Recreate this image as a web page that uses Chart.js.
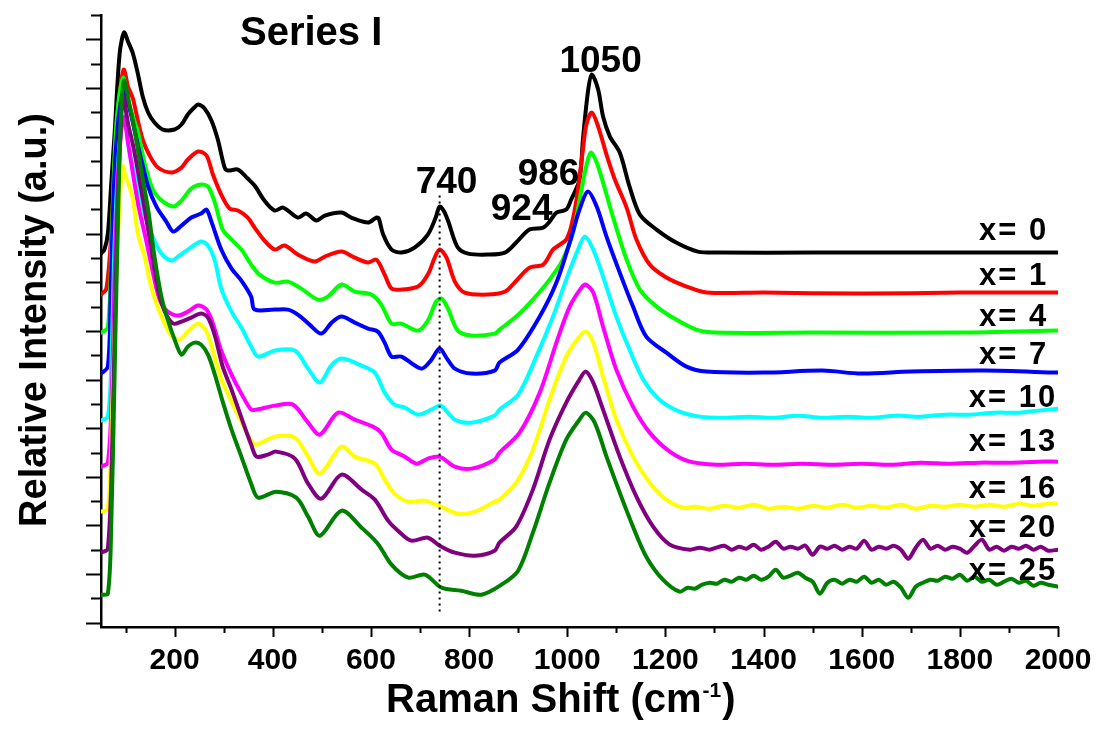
<!DOCTYPE html>
<html>
<head>
<meta charset="utf-8">
<title>Raman - Series I</title>
<script src="https://cdn.jsdelivr.net/npm/chart.js@4.4.1/dist/chart.umd.min.js"></script>
<style>
  html, body { margin: 0; padding: 0; background: #fff; }
  #grafico { display: block; }
</style>
</head>
<body>
<canvas id="grafico" width="1097" height="731"></canvas>
<script>
// [Raman shift (cm-1), relative intensity (a.u., curves already offset)]
const ramanX0 = [[50,369],[57,373],[64,389],[71,440],[78,491],[88,569],[97,590],[105,581],[115,569],[125,549],[135,526],[146,510],[159,500],[176,493],[200,493],[214,498],[227,508],[240,515],[248,518],[261,514],[275,502],[288,483],[302,455],[309,452],[329,453],[349,444],[363,437],[383,422],[404,412],[421,415],[451,405],[468,409],[489,402],[506,407],[540,410],[560,405],[594,400],[611,405],[616,404],[625,388],[642,373],[662,370],[689,375],[716,388],[732,405],[740,416],[748,412],[757,402],[777,375],[798,369],[838,368],[873,370],[896,380],[923,393],[951,395],[964,401],[978,410],[998,413],[1008,423],[1025,443],[1032,483],[1042,530],[1050,548],[1063,533],[1073,506],[1087,486],[1107,470],[1127,436],[1148,408],[1182,393],[1222,380],[1266,371],[1311,370],[1500,370],[1700,370],[2000,370]];

const ramanX1 = [[50,328],[61,334],[71,389],[81,491],[91,541],[97,553],[105,536],[115,524],[125,502],[135,483],[149,467],[166,455],[193,450],[214,455],[227,463],[248,471],[265,467],[278,448],[295,428],[312,414],[329,412],[349,405],[363,395],[383,382],[404,373],[424,377],[451,368],[485,361],[506,366],[540,371],[567,365],[594,360],[611,363],[628,348],[642,334],[662,333],[696,336],[716,348],[730,365],[740,373],[754,365],[771,341],[791,330],[838,328],[873,331],[889,338],[923,355],[951,358],[971,373],[985,378],[998,383],[1008,396],[1019,423],[1032,473],[1039,498],[1050,510],[1063,496],[1080,468],[1097,443],[1121,415],[1141,383],[1168,358],[1202,345],[1243,336],[1284,330],[1400,330],[1600,329],[1800,330],[2000,330]];

const ramanX4 = [[50,290],[64,295],[71,373],[78,471],[85,518],[95,545],[105,522],[115,506],[125,491],[139,459],[153,436],[169,424],[197,416],[214,422],[234,434],[254,438],[268,436],[282,420],[298,393],[316,383],[336,373],[356,358],[373,348],[404,340],[431,341],[458,334],[492,323],[512,326],[540,338],[567,331],[601,328],[621,318],[642,299],[662,299],[696,292],[716,302],[733,321],[744,324],[757,314],[777,292],[805,287],[852,289],[862,293],[896,306],[930,323],[964,343],[991,363],[1012,390],[1029,433],[1042,463],[1049,470],[1060,460],[1073,440],[1093,406],[1121,363],[1148,333],[1182,316],[1222,303],[1263,293],[1304,290],[1500,290],[1800,290],[2000,292]];

const ramanX7 = [[50,249],[64,256],[70,334],[76,432],[83,491],[90,520],[96,531],[105,520],[119,491],[132,463],[146,436],[163,416],[183,401],[197,391],[214,397],[234,405],[254,409],[265,413],[275,401],[295,373],[316,354],[336,342],[356,326],[363,313],[404,313],[431,313],[451,308],[475,298],[499,289],[520,300],[540,306],[567,300],[594,294],[614,291],[628,280],[642,266],[662,266],[703,254],[722,262],[740,274],[755,264],[771,254],[805,249],[852,252],[862,260],[900,273],[944,306],[978,340],[1005,380],[1025,413],[1042,431],[1060,416],[1080,386],[1107,350],[1134,316],[1161,286],[1202,270],[1243,256],[1284,251],[1400,250],[1520,252],[1600,249],[1700,251],[1850,252],[2000,250]];

const ramanX10 = [[50,202],[64,206],[71,260],[77,370],[84,450],[91,495],[98,506],[105,479],[115,455],[125,436],[139,408],[156,385],[173,369],[193,362],[207,366],[227,373],[254,381],[268,377],[282,362],[295,334],[316,311],[336,295],[356,276],[370,266],[404,272],[445,272],[472,254],[496,240],[519,257],[540,264],[581,257],[608,250],[628,230],[648,218],[669,215],[696,208],[723,213],[742,217],[771,203],[805,200],[852,207],[862,213],[900,228],[937,266],[971,306],[998,343],[1022,373],[1036,386],[1053,373],[1073,346],[1100,306],[1127,273],[1155,243],[1188,223],[1229,211],[1270,206],[1320,205],[1370,206],[1420,205],[1470,207],[1520,205],[1570,206],[1620,205],[1670,207],[1720,206],[1770,208],[1820,208],[1870,210],[1920,210],[1960,212],[2000,214]];

const ramanX13 = [[50,156],[64,160],[72,230],[78,350],[85,450],[92,495],[97,505],[105,480],[118,440],[127,415],[139,389],[149,366],[163,334],[173,319],[186,311],[207,307],[227,311],[248,317],[265,313],[278,299],[295,272],[316,248],[336,229],[356,213],[367,213],[404,217],[441,218],[472,200],[496,188],[533,210],[567,203],[604,196],[621,190],[642,173],[669,166],[693,159],[716,164],[740,166],[771,156],[805,154],[852,163],[862,170],[903,190],[944,230],[978,280],[1005,316],[1029,335],[1038,338],[1053,330],[1073,296],[1100,253],[1134,216],[1168,190],[1209,171],[1250,161],[1304,158],[1360,159],[1420,158],[1480,159],[1540,158],[1600,159],[1660,158],[1720,160],[1780,159],[1840,160],[1900,160],[1960,161],[2000,161]];

const ramanX16 = [[50,111],[64,114],[72,200],[80,330],[88,420],[95,456],[100,445],[105,440],[115,424],[125,389],[139,366],[149,342],[163,319],[180,299],[193,287],[210,283],[227,291],[248,299],[265,291],[278,272],[295,244],[316,221],[336,201],[356,182],[366,178],[404,186],[445,185],[472,166],[496,149],[540,176],[567,166],[608,159],[628,143],[648,129],[676,121],[710,122],[743,116],[777,109],[812,111],[852,121],[862,123],[896,140],[930,173],[964,223],[998,266],[1025,286],[1038,291],[1053,280],[1073,246],[1100,203],[1134,166],[1168,140],[1202,123],[1236,115],[1260,116],[1290,114],[1320,117],[1350,115],[1380,118],[1410,114],[1440,116],[1470,114],[1500,117],[1530,115],[1560,118],[1590,115],[1620,117],[1650,115],[1680,118],[1710,114],[1740,117],[1770,116],[1800,118],[1830,116],[1860,118],[1890,116],[1920,119],[1950,117],[1980,119],[2000,119]];

const ramanX20 = [[50,70],[64,74],[73,180],[80,340],[87,460],[95,526],[105,499],[115,478],[125,452],[139,413],[153,373],[166,334],[180,311],[197,299],[214,301],[234,305],[254,309],[268,305],[282,287],[298,256],[316,233],[336,205],[356,178],[367,166],[390,168],[407,171],[445,164],[472,139],[499,124],[540,148],[581,133],[608,123],[635,102],[655,92],[682,82],[716,85],[740,77],[771,70],[812,67],[852,72],[862,80],[896,96],[930,133],[964,183],[998,220],[1025,243],[1038,251],[1053,240],[1073,213],[1107,166],[1141,126],[1175,96],[1209,78],[1250,73],[1270,75],[1290,73],[1304,75],[1320,77],[1335,73],[1350,76],[1365,74],[1380,78],[1395,73],[1410,76],[1425,81],[1440,74],[1455,76],[1470,74],[1485,77],[1500,68],[1515,76],[1530,74],[1545,77],[1560,73],[1575,76],[1590,74],[1605,82],[1620,73],[1635,76],[1650,74],[1665,77],[1680,73],[1695,64],[1710,75],[1725,83],[1740,74],[1755,77],[1770,73],[1785,76],[1800,74],[1815,70],[1830,77],[1845,83],[1860,73],[1875,76],[1890,72],[1905,76],[1920,74],[1935,77],[1950,73],[1965,76],[1980,72],[2000,73]];

const ramanX25 = [[50,28],[64,29],[71,100],[78,256],[85,413],[91,510],[97,542],[108,518],[119,491],[132,452],[146,413],[159,366],[173,326],[186,303],[200,283],[214,268],[227,276],[241,280],[254,278],[268,268],[282,248],[298,221],[316,193],[336,166],[356,139],[370,125],[407,131],[448,125],[472,106],[496,87],[540,112],[581,95],[614,79],[642,58],[676,45],[710,48],[744,35],[784,32],[825,28],[866,38],[900,52],[930,90],[964,140],[998,183],[1025,203],[1038,210],[1056,200],[1080,166],[1107,130],[1134,96],[1161,66],[1195,43],[1229,31],[1245,35],[1260,34],[1275,38],[1290,40],[1305,39],[1320,43],[1335,41],[1350,45],[1365,43],[1380,47],[1395,43],[1410,46],[1425,53],[1440,45],[1455,47],[1470,50],[1485,45],[1500,41],[1515,29],[1530,40],[1545,43],[1560,39],[1575,43],[1590,41],[1605,46],[1620,40],[1635,43],[1650,38],[1665,41],[1680,35],[1695,25],[1710,36],[1725,40],[1740,43],[1755,42],[1770,46],[1785,44],[1800,48],[1815,42],[1830,46],[1845,41],[1860,43],[1875,38],[1890,41],[1905,44],[1920,40],[1935,42],[1950,37],[1965,40],[1980,38],[2000,36]];

const spectra = [ramanX0, ramanX1, ramanX4, ramanX7, ramanX10, ramanX13, ramanX16, ramanX20, ramanX25];
const seriesNames = ['x= 0', 'x= 1', 'x= 4', 'x= 7', 'x= 10', 'x= 13', 'x= 16', 'x= 20', 'x= 25'];
const seriesColors = ['#000000', '#ff0000', '#00ff00', '#0000ff', '#00ffff', '#ff00ff', '#ffff00', '#800080', '#008000'];

const xTickLabels = [200, 400, 600, 800, 1000, 1200, 1400, 1600, 1800, 2000];
const xMinorTicks = [100, 300, 500, 700, 900, 1100, 1300, 1500, 1700, 1900];
const peakLabels = ['740', '924', '986', '1050'];
const peakLine = [[740, 427], [740, 11]];

// where the texts sit, in chart units
const peakLabelPos = [[754, 430], [907, 403], [962, 438], [1068, 551]];
const seriesLabelPos = [[1839, 383], [1839, 338], [1839, 297], [1839, 259], [1818, 216], [1818, 172], [1818, 125], [1818, 86], [1818, 43]];

const FONTE = 'Arial, "Liberation Sans", sans-serif';
const Y_PASSO = 24.3;

const decoracao = {
    id: 'decoracao',
    afterDraw(chart) {
        const ctx = chart.ctx;
        const xs = chart.scales.x;
        const ys = chart.scales.y;
        const area = chart.chartArea;

        ctx.save();
        ctx.strokeStyle = '#000';
        ctx.lineWidth = 2;
        ctx.beginPath();
        xTickLabels.forEach(v => {
            const px = Math.round(xs.getPixelForValue(v)) + 0.5;
            ctx.moveTo(px, area.bottom);
            ctx.lineTo(px, area.bottom + 10);
        });
        xMinorTicks.forEach(v => {
            const px = Math.round(xs.getPixelForValue(v)) + 0.5;
            ctx.moveTo(px, area.bottom);
            ctx.lineTo(px, area.bottom + 6);
        });
        for (let i = 0; i <= 25; i++) {
            const py = Math.round(ys.getPixelForValue(i * Y_PASSO)) + 0.5;
            const len = i % 2 === 0 ? 15 : 10;
            ctx.moveTo(area.left - len, py);
            ctx.lineTo(area.left, py);
        }
        ctx.stroke();

        ctx.fillStyle = '#000';
        ctx.textBaseline = 'alphabetic';

        // rotulos do eixo x
        ctx.font = 'bold 30px ' + FONTE;
        ctx.textAlign = 'center';
        xTickLabels.forEach(v => {
            ctx.fillText(String(v), xs.getPixelForValue(v), area.bottom + 42);
        });

        // titulo do eixo x com expoente
        ctx.font = 'bold 40px ' + FONTE;
        ctx.textAlign = 'left';
        let px = 386;
        ctx.fillText('Raman Shift (cm', px, 712);
        px += ctx.measureText('Raman Shift (cm').width;
        ctx.font = 'bold 21px ' + FONTE;
        ctx.fillText('-1', px + 1, 697);
        px += ctx.measureText('-1').width + 2;
        ctx.font = 'bold 40px ' + FONTE;
        ctx.fillText(')', px, 712);

        // titulo do eixo y
        ctx.font = 'bold 38px ' + FONTE;
        ctx.save();
        ctx.translate(46, 320);
        ctx.rotate(-Math.PI / 2);
        ctx.textAlign = 'center';
        ctx.fillText('Relative Intensity (a.u.)', 0, 0);
        ctx.restore();

        ctx.font = 'bold 40px ' + FONTE;
        ctx.textAlign = 'left';
        ctx.fillText('Series I', 240, 45);

        ctx.font = 'bold 37px ' + FONTE;
        ctx.textAlign = 'center';
        peakLabels.forEach((t, i) => {
            const p = peakLabelPos[i];
            ctx.fillText(t, xs.getPixelForValue(p[0]), ys.getPixelForValue(p[1]));
        });

        ctx.font = 'bold 31px ' + FONTE;
        ctx.textAlign = 'left';
        if ('letterSpacing' in ctx) ctx.letterSpacing = '2px';
        seriesNames.forEach((t, i) => {
            const p = seriesLabelPos[i];
            ctx.fillText(t, xs.getPixelForValue(p[0]), ys.getPixelForValue(p[1]));
        });
        ctx.restore();
    }
};

const conjuntos = spectra.map((pts, i) => ({
    label: seriesNames[i],
    data: pts.map(p => ({ x: p[0], y: p[1] })),
    borderColor: seriesColors[i],
    borderWidth: 4,
    borderJoinStyle: 'round',
    borderCapStyle: 'round',
    pointRadius: 0,
    tension: 0.3,
    fill: false,
    order: spectra.length - i
}));

conjuntos.push({
    label: '740',
    data: peakLine.map(p => ({ x: p[0], y: p[1] })),
    borderColor: '#000',
    borderWidth: 2,
    borderDash: [2, 4],
    pointRadius: 0,
    fill: false,
    order: 0
});

new Chart(document.getElementById('grafico').getContext('2d'), {
    type: 'line',
    data: { datasets: conjuntos },
    options: {
        responsive: false,
        devicePixelRatio: 1,
        animation: false,
        layout: { padding: { top: 15, right: 39, left: 0, bottom: 0 } },
        plugins: {
            legend: { display: false },
            tooltip: { enabled: false }
        },
        scales: {
            x: {
                type: 'linear',
                min: 50,
                max: 2000,
                afterFit: s => { s.height = 104; },
                grid: { display: false, drawTicks: false },
                border: { display: true, color: '#000', width: 2.5 },
                ticks: { display: false }
            },
            y: {
                type: 'linear',
                min: -4.3,
                max: 25 * Y_PASSO,
                afterFit: s => { s.width = 101; },
                grid: { display: false, drawTicks: false },
                border: { display: true, color: '#000', width: 2.5 },
                ticks: { display: false }
            }
        }
    },
    plugins: [decoracao]
});
</script>
</body>
</html>
